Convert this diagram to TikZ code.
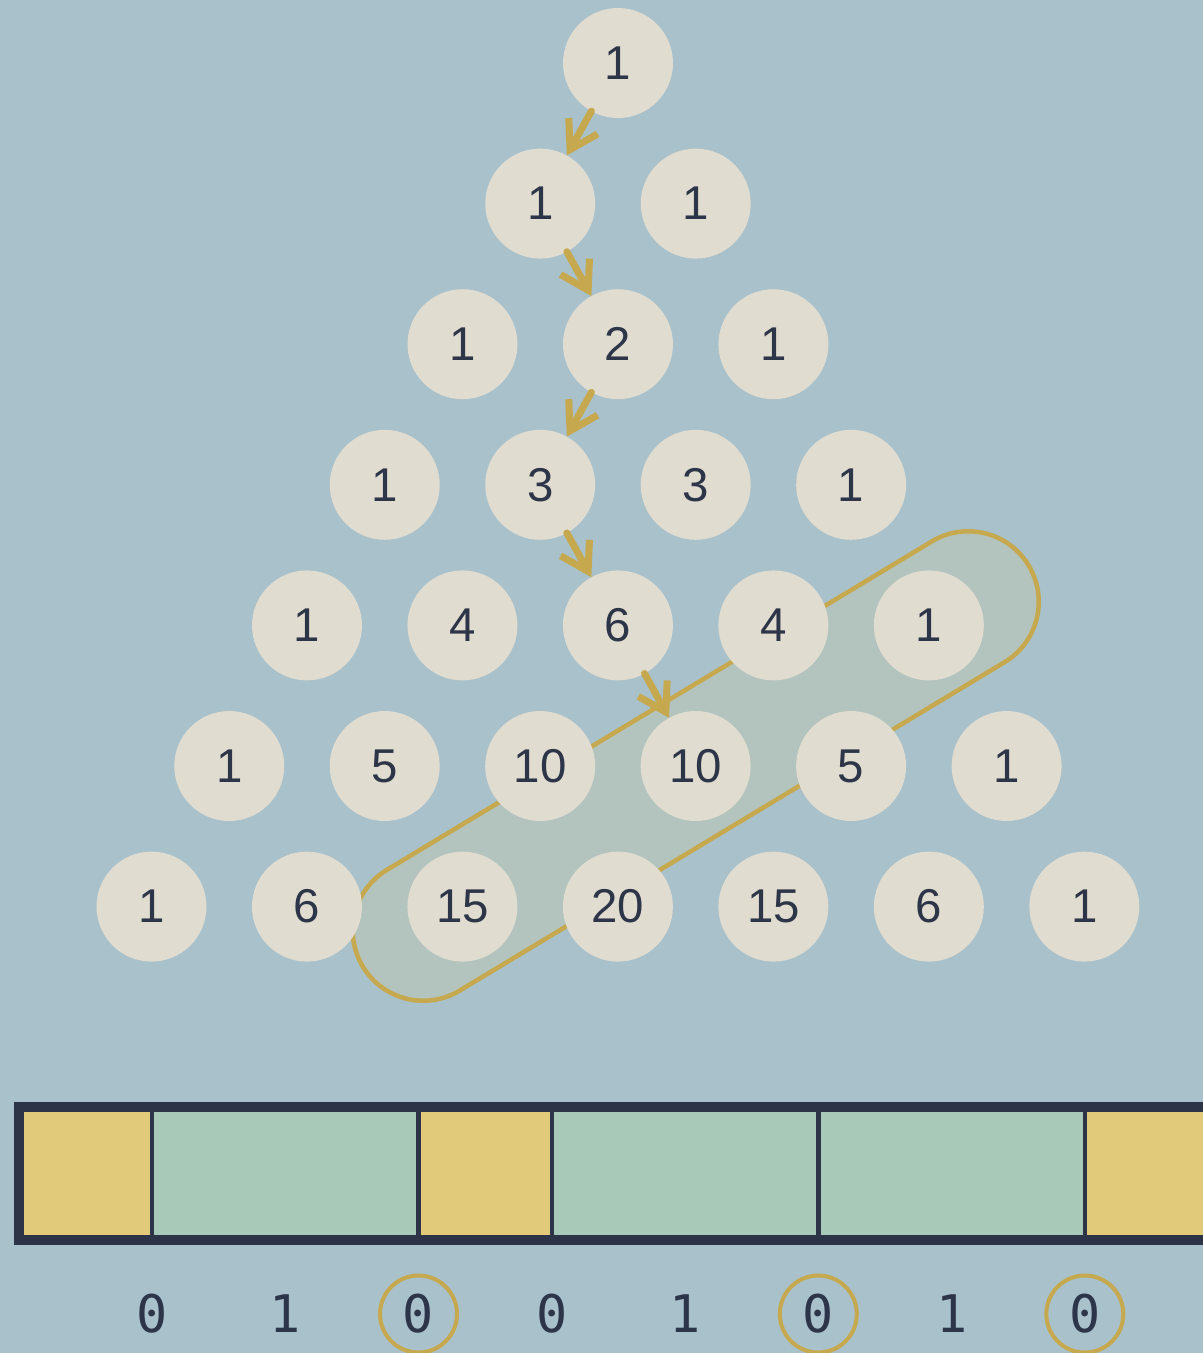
\documentclass[tikz,border=0pt]{standalone}
\usepackage{fontspec}
\setmainfont{Liberation Sans}
\newfontfamily\bitfont{DejaVu Sans Mono}
\usetikzlibrary{arrows.meta,positioning}
\definecolor{slatebg}{HTML}{A8C1CB}
\definecolor{numfill}{HTML}{E1DCD0}
\definecolor{inkdark}{HTML}{2D3548}
\definecolor{goldline}{HTML}{C6A94E}
\definecolor{bandfill}{HTML}{B3C4BE}
\definecolor{cellyellow}{HTML}{E1CB7A}
\definecolor{cellgreen}{HTML}{A8C9B8}
\definecolor{barline}{HTML}{2D3447}
\tikzset{
    pascalnum/.style={circle, fill=numfill, text=inkdark, minimum size=2.2cm, inner sep=0pt, outer sep=0pt, font=\fontsize{27}{30}\selectfont},
    pascalarrow/.style={-{Straight Barb[length=0.54cm, width=0.66cm]}, line width=0.14cm, draw=goldline, line cap=round},
    diagband/.style={draw=goldline, fill=bandfill, line width=0.09cm, rounded corners=1.41cm, minimum width=15.55cm, minimum height=2.82cm, inner sep=0pt},
    bitlabel/.style={font=\bitfont\fontsize{29.5}{32}\selectfont, text=inkdark, inner sep=0pt},
    bitring/.style={circle, draw=goldline, line width=0.08cm, minimum size=1.54cm}
}

\begin{document}
\begin{tikzpicture}[x=0.02cm, y=-0.02cm, node distance=0.91cm]
        \useasboundingbox (0,0) rectangle (1203,1353);
        \clip (0,0) rectangle (1203,1353);
        \fill[slatebg] (0,0) rectangle (1203,1353);
        % shallow diagonal
        \node[diagband, rotate=31.08] (fibband) at (695.75,766) {};
        % triangle, row by row
        \node[pascalnum] (p-0-0) at (618,63) {1};
        \node[pascalnum] (p-1-0) at (540.25,203.6) {1};
        \node[pascalnum, right=of p-1-0] (p-1-1) {1};
        \node[pascalnum] (p-2-0) at (462.5,344.2) {1};
        \node[pascalnum, right=of p-2-0] (p-2-1) {2};
        \node[pascalnum, right=of p-2-1] (p-2-2) {1};
        \node[pascalnum] (p-3-0) at (384.75,484.8) {1};
        \node[pascalnum, right=of p-3-0] (p-3-1) {3};
        \node[pascalnum, right=of p-3-1] (p-3-2) {3};
        \node[pascalnum, right=of p-3-2] (p-3-3) {1};
        \node[pascalnum] (p-4-0) at (307,625.4) {1};
        \node[pascalnum, right=of p-4-0] (p-4-1) {4};
        \node[pascalnum, right=of p-4-1] (p-4-2) {6};
        \node[pascalnum, right=of p-4-2] (p-4-3) {4};
        \node[pascalnum, right=of p-4-3] (p-4-4) {1};
        \node[pascalnum] (p-5-0) at (229.25,766) {1};
        \node[pascalnum, right=of p-5-0] (p-5-1) {5};
        \node[pascalnum, right=of p-5-1] (p-5-2) {10};
        \node[pascalnum, right=of p-5-2] (p-5-3) {10};
        \node[pascalnum, right=of p-5-3] (p-5-4) {5};
        \node[pascalnum, right=of p-5-4] (p-5-5) {1};
        \node[pascalnum] (p-6-0) at (151.5,906.6) {1};
        \node[pascalnum, right=of p-6-0] (p-6-1) {6};
        \node[pascalnum, right=of p-6-1] (p-6-2) {15};
        \node[pascalnum, right=of p-6-2] (p-6-3) {20};
        \node[pascalnum, right=of p-6-3] (p-6-4) {15};
        \node[pascalnum, right=of p-6-4] (p-6-5) {6};
        \node[pascalnum, right=of p-6-5] (p-6-6) {1};
        % zigzag path
        \draw[pascalarrow] (p-0-0) -- (p-1-0);
        \draw[pascalarrow] (p-1-0) -- (p-2-1);
        \draw[pascalarrow] (p-2-1) -- (p-3-1);
        \draw[pascalarrow] (p-3-1) -- (p-4-2);
        \draw[pascalarrow] (p-4-2) -- (p-5-3);
        % bar
        \fill[cellyellow] (19,1107) rectangle (152,1240);
        \fill[cellgreen] (152,1107) rectangle (418.5,1240);
        \fill[cellyellow] (418.5,1107) rectangle (551.8,1240);
        \fill[cellgreen] (551.8,1107) rectangle (818.3,1240);
        \fill[cellgreen] (818.3,1107) rectangle (1084.8,1240);
        \fill[cellyellow] (1084.8,1107) rectangle (1260,1240);
        \foreach \xd in {152,418.5,551.8,818.3,1084.8}
            \draw[barline, line width=0.09cm] (\xd,1107) -- (\xd,1240);
        \draw[barline, line width=0.2cm] (1260,1107) -- (19,1107) -- (19,1240) -- (1260,1240);
        % bits
        \node[bitlabel] (b-0) at (152,1314) {0};
        \node[bitlabel] (b-1) at (285.3,1314) {1};
        \node[bitlabel, bitring] (b-2) at (418.5,1314) {0};
        \node[bitlabel] (b-3) at (551.8,1314) {0};
        \node[bitlabel] (b-4) at (685,1314) {1};
        \node[bitlabel, bitring] (b-5) at (818.3,1314) {0};
        \node[bitlabel] (b-6) at (951.6,1314) {1};
        \node[bitlabel, bitring] (b-7) at (1084.8,1314) {0};
    \end{tikzpicture}
\end{document}
